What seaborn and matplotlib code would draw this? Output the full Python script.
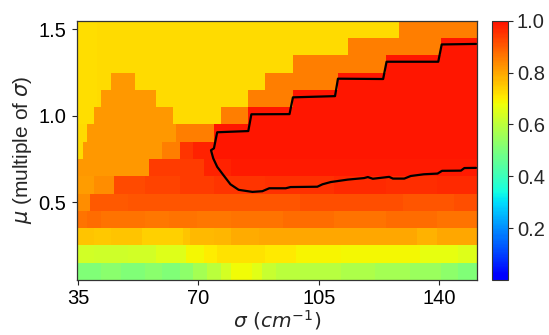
import numpy as np
import pandas as pd
import seaborn as sns
import matplotlib
matplotlib.use("Agg")
import matplotlib.pyplot as plt
from matplotlib.colors import ListedColormap

# grid axes
sigma = list(range(35, 152))          # cm^-1, one column per value
mu = [0.1, 0.2, 0.3, 0.4, 0.5, 0.6, 0.7, 0.8, 0.9, 1.0, 1.1, 1.2, 1.3, 1.4, 1.5]

# values, per row: (sigma where the run starts, value)
row_01 = [(35, 0.51), (42, 0.52), (48, 0.51), (55, 0.52), (60, 0.51), (65, 0.53), (69, 0.56),
          (73, 0.60), (77, 0.64), (80, 0.68), (86, 0.66), (89, 0.62), (93, 0.60), (100, 0.59),
          (112, 0.575), (122, 0.565), (132, 0.55), (141, 0.525), (146, 0.51)]
row_02 = [(35, 0.63), (40, 0.625), (50, 0.63), (58, 0.65), (67, 0.685), (72, 0.70),
          (76, 0.715), (90, 0.71), (99, 0.695), (112, 0.69), (125, 0.685), (135, 0.665),
          (146, 0.655)]
row_03 = [(35, 0.755), (40, 0.75), (45, 0.755), (54, 0.745), (60, 0.74), (66, 0.755), (68, 0.77),
          (75, 0.775), (80, 0.79), (88, 0.795), (100, 0.80), (115, 0.795), (125, 0.80), (134, 0.785),
          (140, 0.80)]
row_04 = [(35, 0.87), (38, 0.875), (42, 0.865), (48, 0.87), (55, 0.86), (62, 0.865), (70, 0.86),
          (80, 0.87), (95, 0.875), (110, 0.87), (125, 0.875), (140, 0.87)]
row_05 = [(35, 0.835), (39, 0.90), (50, 0.905), (70, 0.91), (100, 0.915), (130, 0.91), (145, 0.915)]
row_06 = [(35, 0.81), (40, 0.835), (46, 0.925), (55, 0.93), (65, 0.94), (75, 0.95), (90, 0.955),
          (110, 0.965), (125, 0.96), (140, 0.965)]
row_07 = [(35, 0.82), (56, 0.94), (72, 0.975), (80, 0.985)]
row_08 = [(35, 0.73), (37, 0.82), (60, 0.85), (65, 0.95), (69, 0.975), (75, 0.99)]
row_09 = [(35, 0.73), (38, 0.82), (64, 0.85), (75, 0.99)]
row_10 = [(35, 0.72), (40, 0.82), (63, 0.73), (77, 0.85), (85, 0.99)]
row_11 = [(35, 0.72), (41, 0.73), (42, 0.82), (58, 0.73), (85, 0.85), (98, 0.99)]
row_12 = [(35, 0.72), (41, 0.73), (45, 0.82), (52, 0.73), (90, 0.85), (111, 0.99)]
row_13 = [(35, 0.72), (41, 0.73), (98, 0.85), (125, 0.99)]
row_14 = [(35, 0.72), (41, 0.73), (114, 0.85), (141, 0.99)]
row_15 = [(35, 0.72), (41, 0.73), (129, 0.85)]
rows = [row_01, row_02, row_03, row_04, row_05, row_06, row_07, row_08,
        row_09, row_10, row_11, row_12, row_13, row_14, row_15]

# black contour
contour_sigma = [150.8, 140.8, 139.8, 124.75, 123.75, 110.6, 109.75, 97.5, 96.5, 85.4, 84.5,
                 75.45, 74.5, 73.65, 74.3, 75.45, 77.3, 79.3, 81.7, 85.7, 88.6, 90.6, 95.4,
                 96.8, 104.6, 106.1, 108.5, 113.4, 118.2, 119.3, 120.75, 125.5, 126.6, 129.9,
                 131.8, 135.6, 139.6, 140.9, 146.4, 147.4, 150.8]
contour_mu = [1.416, 1.413, 1.313, 1.313, 1.213, 1.215, 1.114, 1.107, 1.010, 1.009, 0.912,
              0.905, 0.812, 0.801, 0.754, 0.705, 0.656, 0.604, 0.572, 0.560, 0.564, 0.581, 0.581,
              0.588, 0.590, 0.604, 0.617, 0.631, 0.640, 0.646, 0.636, 0.647, 0.637, 0.637,
              0.652, 0.662, 0.666, 0.682, 0.683, 0.698, 0.699]

x_ticks = [35, 70, 105, 140]
y_ticks = [0.5, 1.0, 1.5]
cbar_ticks = [0.2, 0.4, 0.6, 0.8, 1.0]


def expand(runs):
    out = []
    for s in sigma:
        val = runs[0][1]
        for start, v in runs:
            if s >= start:
                val = v
        out.append(val)
    return out


grid = pd.DataFrame([expand(r) for r in rows[::-1]], index=mu[::-1], columns=sigma)

sns.set_style("ticks")
plt.rcParams['font.family'] = ['Liberation Sans', 'DejaVu Sans']
plt.rcParams['mathtext.fontset'] = 'dejavusans'

cmap = ListedColormap(plt.get_cmap('jet')(np.linspace(0.11, 0.89, 256)))

fig = plt.figure(figsize=(5.49, 3.35), dpi=100)
ax = fig.add_axes([0.140, 0.164, 0.729, 0.774])
cax = fig.add_axes([0.896, 0.164, 0.029, 0.774])

sns.heatmap(grid, cmap=cmap, vmin=0, vmax=1, ax=ax, cbar_ax=cax,
            xticklabels=False, yticklabels=False, cbar_kws={'ticks': cbar_ticks})

x0 = sigma[0] - 0.5
y_top = mu[-1] + 0.05
ax.plot([s - x0 for s in contour_sigma], [(y_top - m) / 0.1 for m in contour_mu],
        color='black', lw=1.6)

ax.set_xlim(0.1, len(sigma) - 0.4)
ax.set_xticks([t - x0 for t in x_ticks])
ax.set_xticklabels([str(t) for t in x_ticks])
ax.set_yticks([(y_top - t) / 0.1 for t in y_ticks])
ax.set_yticklabels([f"{t:.1f}" for t in y_ticks], rotation=0)
ax.tick_params(axis='both', labelsize=14.5, length=3.5, width=0.8, direction='out', pad=4,
               bottom=True, left=True, colors='#222222', labelcolor='black')
ax.tick_params(axis='x', pad=3)

for s in ax.spines.values():
    s.set_visible(True)
    s.set_linewidth(0.9)
    s.set_color('#333333')

ax.set_xlabel(r'$\sigma\ (cm^{-1})$', fontsize=14.5, labelpad=0)
ax.set_ylabel(r'$\mu$ (multiple of $\sigma$)', fontsize=15, labelpad=3)

cbar = ax.collections[0].colorbar
cbar.ax.tick_params(labelsize=14.5, length=3.5, width=0.8, direction='out', right=True, pad=3)
cbar.ax.set_yticklabels([f"{t:.1f}" for t in cbar_ticks])
cbar.outline.set_visible(True)
cbar.outline.set_linewidth(0.8)
cbar.outline.set_edgecolor('#333333')

fig.savefig('out.png', dpi=100)
